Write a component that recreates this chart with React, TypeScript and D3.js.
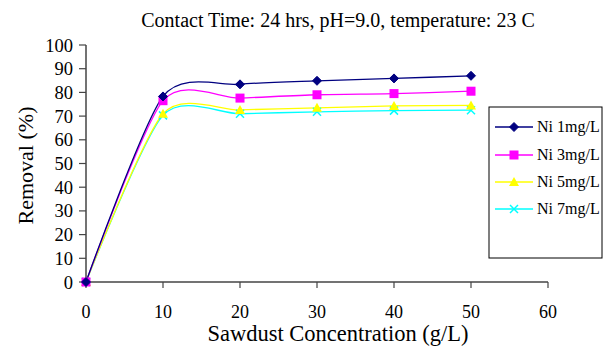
import React from "react";
import * as d3 from "d3";

const concentrations = [0, 10, 20, 30, 40, 50];
const ni1 = [0, 78.3, 83.4, 84.9, 85.9, 87.0];
const ni3 = [0, 76.5, 77.6, 79.0, 79.5, 80.5];
const ni5 = [0, 71.0, 72.6, 73.5, 74.3, 74.5];
const ni7 = [0, 70.3, 71.0, 71.8, 72.3, 72.5];
const seriesNames = ["Ni 1mg/L", "Ni 3mg/L", "Ni 5mg/L", "Ni 7mg/L"];
const xTicks = [0, 10, 20, 30, 40, 50, 60];
const yTicks = [0, 10, 20, 30, 40, 50, 60, 70, 80, 90, 100];

const seriesValues = [ni1, ni3, ni5, ni7];
const colors = ["#000080", "#FF00FF", "#FFFF00", "#00FFFF"];
const markerTypes = ["diamond", "square", "triangle", "x"];

const W = 607;
const H = 347;
const font = "'Liberation Serif', 'Times New Roman', serif";

function Marker({ type, x, y, color }: { type: string; x: number; y: number; color: string }) {
  if (type === "diamond") {
    const s = 4.5;
    return <path d={`M${x},${y - s}L${x + s},${y}L${x},${y + s}L${x - s},${y}Z`} fill={color} stroke={color} />;
  }
  if (type === "square") {
    const s = 4.5;
    return <rect x={x - s} y={y - s} width={2 * s} height={2 * s} fill={color} />;
  }
  if (type === "triangle") {
    const s = 5;
    return <path d={`M${x},${y - s}L${x + s},${y + s * 0.8}L${x - s},${y + s * 0.8}Z`} fill={color} />;
  }
  const s = 4;
  return (
    <path d={`M${x - s},${y - s}L${x + s},${y + s}M${x - s},${y + s}L${x + s},${y - s}`} stroke={color} strokeWidth={1.5} />
  );
}

export default function App() {
  const x = d3.scaleLinear().domain([0, 60]).range([86, 548]);
  const y = d3.scaleLinear().domain([0, 100]).range([282, 45]);
  const line = d3
    .line<number>()
    .x((_, i) => x(concentrations[i]))
    .y((d) => y(d))
    .curve(d3.curveCardinal.tension(0.25));

  const axisColor = "#444";
  const legendY = [127, 155, 182, 209];

  return (
    <svg width={W} height={H} style={{ position: "absolute", left: 0, top: 0, background: "#fff" }}>
      <rect width={W} height={H} fill="#fff" />
      <text x={338} y={27} textAnchor="middle" fontFamily={font} fontSize={20} fill="#000">
        Contact Time: 24 hrs, pH=9.0, temperature: 23 C
      </text>
      {/* Axes */}
      <line x1={x(0)} x2={x(0)} y1={y(0)} y2={y(100)} stroke={axisColor} strokeWidth={1.5} />
      <line x1={x(0)} x2={x(60)} y1={y(0)} y2={y(0)} stroke={axisColor} strokeWidth={1.5} />
      {yTicks.map((t) => (
        <g key={"y" + t}>
          <line x1={x(0) - 7} x2={x(0)} y1={y(t)} y2={y(t)} stroke={axisColor} strokeWidth={1.2} />
          <text x={73} y={y(t) + 6.5} textAnchor="end" fontFamily={font} fontSize={18.5} fill="#000">
            {t}
          </text>
        </g>
      ))}
      {xTicks.map((t) => (
        <g key={"x" + t}>
          <line x1={x(t)} x2={x(t)} y1={y(0)} y2={y(0) + 6} stroke={axisColor} strokeWidth={1.2} />
          <text x={x(t)} y={318} textAnchor="middle" fontFamily={font} fontSize={18} fill="#000">
            {t}
          </text>
        </g>
      ))}
      <text x={338} y={341} textAnchor="middle" fontFamily={font} fontSize={22.5} fill="#000">
        Sawdust Concentration (g/L)
      </text>
      <text
        transform={`translate(33,${y(50) + 2}) rotate(-90)`}
        textAnchor="middle"
        fontFamily={font}
        fontSize={22}
        fill="#000"
      >
        Removal (%)
      </text>
      {seriesValues
        .map((vals, si) => (
          <path key={"l" + si} d={line(vals) || ""} fill="none" stroke={colors[si]} strokeWidth={1.3} />
        ))
        .reverse()}
      {seriesValues
        .map((vals, si) => (
          <g key={"m" + si}>
            {vals.map((v, i) => (
              <Marker key={i} type={markerTypes[si]} x={x(concentrations[i])} y={y(v)} color={colors[si]} />
            ))}
          </g>
        ))
        .reverse()}
      <rect x={489} y={107} width={113} height={151} fill="#fff" stroke="#000" strokeWidth={1} />
      {seriesNames.map((name, si) => (
        <g key={"lg" + si}>
          <line x1={495} x2={533} y1={legendY[si]} y2={legendY[si]} stroke={colors[si]} strokeWidth={1.3} />
          <Marker type={markerTypes[si]} x={514} y={legendY[si]} color={colors[si]} />
          <text x={537} y={legendY[si] + 5} fontFamily={font} fontSize={16} fill="#000">
            {name}
          </text>
        </g>
      ))}
    </svg>
  );
}
